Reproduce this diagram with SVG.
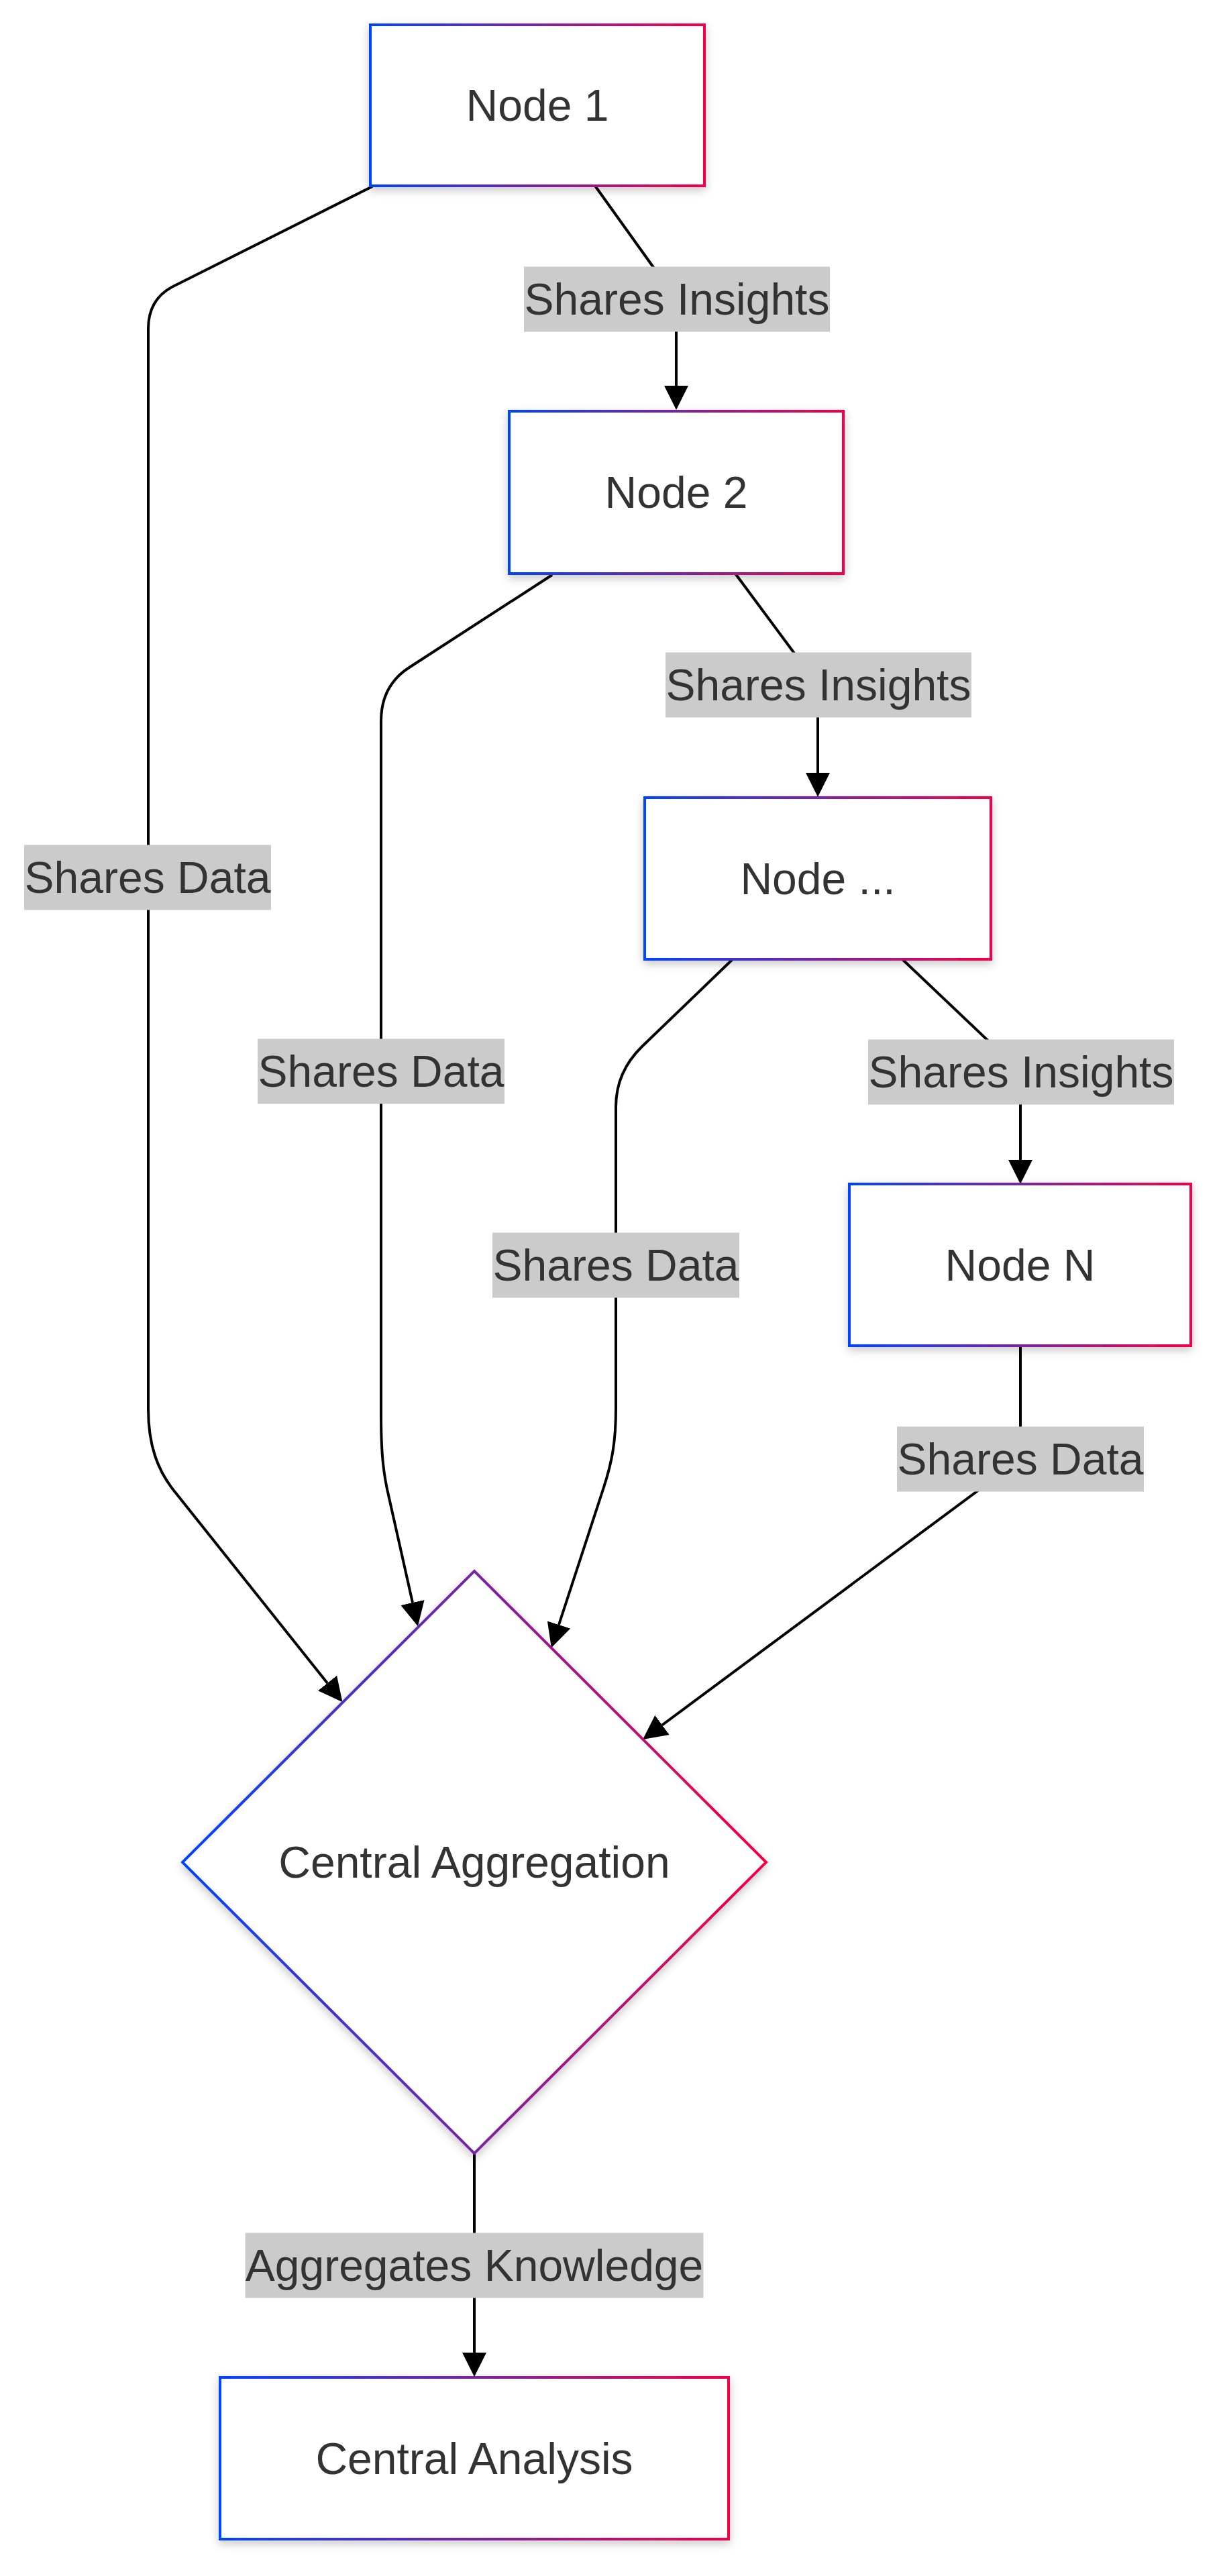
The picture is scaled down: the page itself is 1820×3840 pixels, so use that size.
<svg xmlns="http://www.w3.org/2000/svg" width="1820" height="3840" viewBox="0 0 1820 3840">
<style>
.node{fill:#ffffff;stroke:url(#grad);stroke-width:4;filter:url(#shadow)}
.ntext{font-family:"Liberation Sans",Arial,Helvetica,sans-serif;font-size:66px;fill:#333333;text-anchor:middle}
.edge{fill:none;stroke:#000000;stroke-width:4}
.lbg{fill:#cbcbcb}
.ltext{font-family:"Liberation Sans",Arial,Helvetica,sans-serif;font-size:66px;fill:#333333;text-anchor:middle}
</style>
<defs>
<linearGradient id="grad" x1="0" y1="0" x2="1" y2="0">
<stop offset="0" stop-color="#0044ff"/>
<stop offset="1" stop-color="#f50046"/>
</linearGradient>
<filter id="shadow" x="-10%" y="-10%" width="120%" height="130%">
<feDropShadow dx="0" dy="5" stdDeviation="7" flood-color="#000000" flood-opacity="0.22"/>
</filter>
<marker id="arrow" viewBox="0 0 10 10" refX="0" refY="5" markerUnits="userSpaceOnUse" markerWidth="36" markerHeight="37" orient="auto">
<path d="M0,0 L10,5 L0,10 z" fill="#000000"/>
</marker>
</defs>
<rect width="1820" height="3840" fill="#ffffff"/>
<g id="connectors">
<path class="edge" d="M887,277 L1008,446 L1008,575" marker-end="url(#arrow)"/>
<path class="edge" d="M1096,855 L1219,1021 L1219,1152" marker-end="url(#arrow)"/>
<path class="edge" d="M1345,1430 L1521,1597 L1521,1729" marker-end="url(#arrow)"/>
<path class="edge" d="M707,3210 L707,3507" marker-end="url(#arrow)"/>
<path class="edge" d="M555,278 L258,427 Q221,446 221,490 L221,2100 C221,2155 235,2192 260,2223 L488,2509" marker-end="url(#arrow)"/>
<path class="edge" d="M823,857 L610,995 Q568,1022 568,1075 L568,2110 C568,2170 572,2200 580,2233 L615,2389" marker-end="url(#arrow)"/>
<path class="edge" d="M1092,1430 L957,1560 Q918,1598 918,1650 L918,2100 C918,2150 912,2180 900,2217 L833,2422" marker-end="url(#arrow)"/>
<path class="edge" d="M1521,2006 L1521,2175 L987,2571.5" marker-end="url(#arrow)"/>
</g>
<g id="edge-labels">
<g id="label-n1-n2"><rect class="lbg" x="781" y="397.5" width="456" height="97"/><text class="ltext" x="1009" y="469">Shares Insights</text></g>
<g id="label-n2-n3"><rect class="lbg" x="992" y="972.5" width="456" height="97"/><text class="ltext" x="1220" y="1044">Shares Insights</text></g>
<g id="label-n3-nn"><rect class="lbg" x="1294" y="1549.5" width="456" height="97"/><text class="ltext" x="1522" y="1621">Shares Insights</text></g>
<g id="label-n1-c"><rect class="lbg" x="36" y="1259.5" width="368" height="97"/><text class="ltext" x="220" y="1331">Shares Data</text></g>
<g id="label-n2-c"><rect class="lbg" x="384" y="1548.5" width="368" height="97"/><text class="ltext" x="568" y="1620">Shares Data</text></g>
<g id="label-n3-c"><rect class="lbg" x="734" y="1837.5" width="368" height="97"/><text class="ltext" x="918" y="1909">Shares Data</text></g>
<g id="label-nn-c"><rect class="lbg" x="1337" y="2126.5" width="368" height="97"/><text class="ltext" x="1521" y="2198">Shares Data</text></g>
<g id="label-c-a"><rect class="lbg" x="365.5" y="3328.5" width="683" height="97"/><text class="ltext" x="707" y="3400">Aggregates Knowledge</text></g>
</g>
<g id="node1"><rect class="node" x="552" y="37" width="498" height="240"/><text class="ntext" x="801" y="180">Node 1</text></g>
<g id="node2"><rect class="node" x="759" y="613" width="498" height="242"/><text class="ntext" x="1008" y="757">Node 2</text></g>
<g id="node3"><rect class="node" x="961" y="1189" width="516" height="241"/><text class="ntext" x="1219" y="1333">Node ...</text></g>
<g id="nodeN"><rect class="node" x="1266" y="1765" width="509" height="241"/><text class="ntext" x="1520.5" y="1909">Node N</text></g>
<g id="central-aggregation"><polygon class="node" points="707,2342 1142,2776 707,3210 272,2776"/><text class="ntext" x="707" y="2799">Central Aggregation</text></g>
<g id="central-analysis"><rect class="node" x="328" y="3544" width="758" height="241"/><text class="ntext" x="707" y="3688">Central Analysis</text></g>
</svg>
